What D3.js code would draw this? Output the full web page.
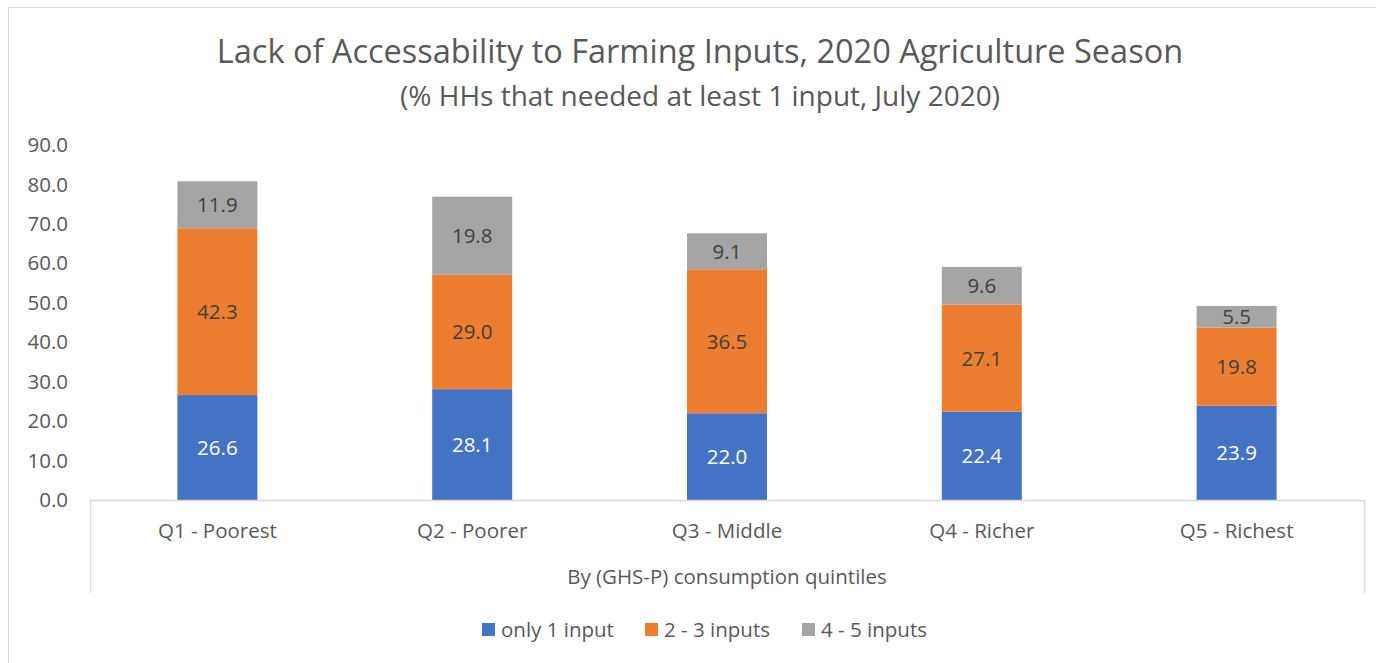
<!DOCTYPE html>
<html><head><meta charset="utf-8">
<script src="https://cdn.jsdelivr.net/npm/d3@7"></script>
<style>body{margin:0;background:#fff;} text{font-family:"Open Sans",sans-serif;}</style>
</head><body>
<svg id="c" width="1376" height="663"></svg>
<script>
const categories = ["Q1 - Poorest","Q2 - Poorer","Q3 - Middle","Q4 - Richer","Q5 - Richest"];
const seriesNames = ["only 1 input","2 - 3 inputs","4 - 5 inputs"];
const only1 = [26.6, 28.1, 22.0, 22.4, 23.9];
const inputs23 = [42.3, 29.0, 36.5, 27.1, 19.8];
const inputs45 = [11.9, 19.8, 9.1, 9.6, 5.5];
const yTicks = [0,10,20,30,40,50,60,70,80,90];
const colors = ["#4472C4","#ED7D31","#A5A5A5"];
const labelColors = ["#ffffff","#404040","#404040"];

(function(){
const svg = d3.select("#c");
const txt = "#595959";
svg.append("rect").attr("x",8.5).attr("y",7.5).attr("width",1380).attr("height",680)
  .attr("fill","none").attr("stroke","#d9d9d9").attr("stroke-width",1);

const pL=90, pR=1364, pT=145, pB=500;
const x = d3.scaleBand().domain(categories).range([pL,pR]);
const y = d3.scaleLinear().domain([0,90]).range([pB,pT]);
const barW = 80;
const fs = 20.5;

svg.append("text").attr("x",700).attr("y",63).attr("text-anchor","middle")
  .attr("font-size",32.5).attr("fill",txt).text("Lack of Accessability to Farming Inputs, 2020 Agriculture Season");
svg.append("text").attr("x",700).attr("y",106).attr("text-anchor","middle")
  .attr("font-size",28).attr("fill",txt).text("(% HHs that needed at least 1 input, July 2020)");

const yAxis = d3.axisLeft(y).tickValues(yTicks).tickFormat(d3.format(".1f")).tickSize(0).tickPadding(0);
const ga = svg.append("g").attr("transform","translate(68,0)").call(yAxis);
ga.select(".domain").remove();
ga.selectAll("text").attr("font-size",fs).attr("fill",txt).attr("font-family","'Open Sans',sans-serif");

const data = categories.map((c,i)=>({cat:c, vals:[only1[i],inputs23[i],inputs45[i]]}));
const stack = d3.stack().keys([0,1,2]).value((d,k)=>d.vals[k]);
const stacked = stack(data);

stacked.forEach((s,k)=>{
  const g = svg.append("g");
  g.selectAll("rect").data(s).join("rect")
    .attr("x",d=>x(d.data.cat)+x.bandwidth()/2-barW/2)
    .attr("width",barW)
    .attr("y",d=>y(d[1]))
    .attr("height",d=>y(d[0])-y(d[1]))
    .attr("fill",colors[k]);
  g.selectAll("text").data(s).join("text")
    .attr("x",d=>x(d.data.cat)+x.bandwidth()/2)
    .attr("y",d=>(y(d[0])+y(d[1]))/2)
    .attr("dy","0.36em").attr("text-anchor","middle")
    .attr("font-size",fs).attr("fill",labelColors[k])
    .text(d=>d.data.vals[k].toFixed(1));
});

const axc = "#d9d9d9";
svg.append("line").attr("x1",pL).attr("x2",pR).attr("y1",pB+0.5).attr("y2",pB+0.5).attr("stroke",axc).attr("stroke-width",1.3);
svg.append("line").attr("x1",pL+0.5).attr("x2",pL+0.5).attr("y1",pB).attr("y2",593).attr("stroke",axc).attr("stroke-width",1.3);
svg.append("line").attr("x1",pR+0.5).attr("x2",pR+0.5).attr("y1",pB).attr("y2",593).attr("stroke",axc).attr("stroke-width",1.3);

svg.append("g").selectAll("text").data(categories).join("text")
  .attr("x",d=>x(d)+x.bandwidth()/2).attr("y",538).attr("text-anchor","middle")
  .attr("font-size",fs).attr("fill",txt).text(d=>d);
svg.append("text").attr("x",(pL+pR)/2).attr("y",584).attr("text-anchor","middle")
  .attr("font-size",fs).attr("fill",txt).text("By (GHS-P) consumption quintiles");

const legX = [482,645,802];
const lg = svg.append("g");
seriesNames.forEach((n,k)=>{
  lg.append("rect").attr("x",legX[k]).attr("y",623).attr("width",13).attr("height",13).attr("fill",colors[k]);
  lg.append("text").attr("x",legX[k]+19).attr("y",637).attr("font-size",fs).attr("fill",txt).text(n);
});
})();
</script>
</body></html>
